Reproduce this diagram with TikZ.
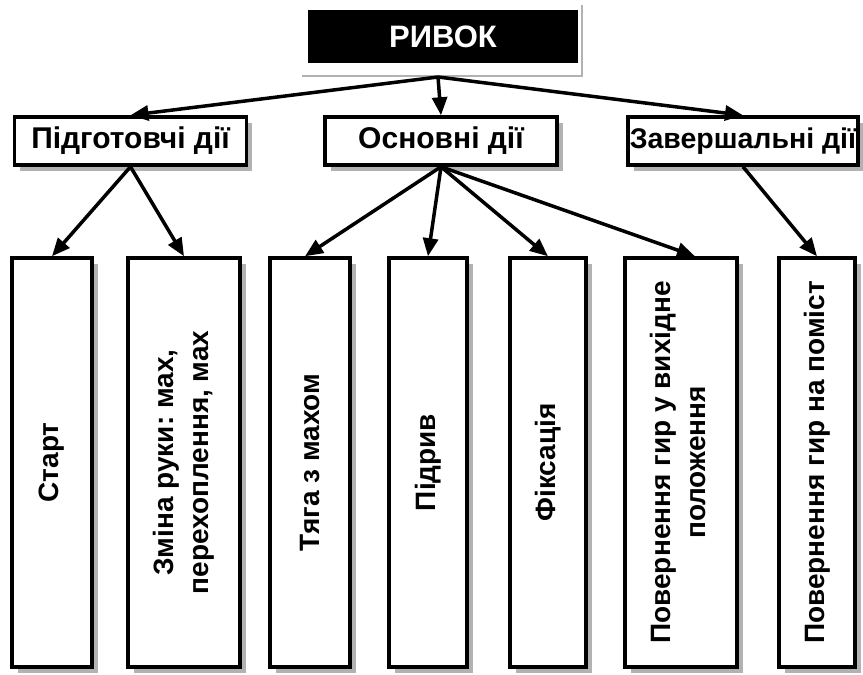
\documentclass[tikz,border=0pt]{standalone}
\usepackage{fontspec}
\setmainfont{Liberation Sans}
\usetikzlibrary{arrows.meta,shadows}
\frenchspacing

\begin{document}
\begin{tikzpicture}[x=1pt,y=-1pt,
  framebox/.style={draw=black, line width=3.5pt, fill=white, inner sep=0pt,
    align=center,
    general shadow={fill=gray!60, shadow xshift=5.5pt, shadow yshift=-5.5pt}},
  stagebox/.style={framebox, minimum width=232pt, minimum height=48pt,
    font=\bfseries\fontsize{30}{34}\selectfont},
  phasebox/.style={framebox, minimum height=409pt,
    font=\bfseries\fontsize{28}{35}\selectfont},
  titlebox/.style={fill=black, text=white, inner sep=0pt,
    minimum width=270pt, minimum height=53pt,
    font=\bfseries\fontsize{31}{36}\selectfont},
  link/.style={line width=3.5pt, -{Triangle[length=18pt,width=15pt]}}
]
\useasboundingbox (0,0) rectangle (863,675);

% title
\draw[gray!60, line width=2.5pt] (302,76) -- (582,76) -- (582,5);
\node[titlebox] (snatch) at (443,36.5) {РИВОК};
\coordinate (hub) at (438,77);

% stages
\node[stagebox] (prep) at (130.5,141) {Підготовчі дії};
\node[stagebox] (main) at (441,141) {Основні дії};
\node[stagebox, minimum width=230pt, font=\bfseries\fontsize{28.5}{34}\selectfont] (fin) at (743,141) {Завершальні дії};

% phases
\node[phasebox, minimum width=80pt]  (start) at (52,462.5)  {\rotatebox{90}{Старт}};
\node[phasebox, minimum width=112pt] (swap)  at (184,462.5) {\rotatebox{90}{\begin{tabular}{@{}c@{}}Зміна руки: мах,\\перехоплення, мах\end{tabular}}};
\node[phasebox, minimum width=80pt]  (pull)  at (310,462.5) {\rotatebox{90}{Тяга з махом}};
\node[phasebox, minimum width=78pt]  (under) at (428,462.5) {\rotatebox{90}{Підрив}};
\node[phasebox, minimum width=76pt]  (fix)   at (548,462.5) {\rotatebox{90}{Фіксація}};
\node[phasebox, minimum width=112pt] (ret)   at (681,462.5) {\rotatebox{90}{\begin{tabular}{@{}c@{}}Повернення гир у вихідне\\положення\end{tabular}}};
\node[phasebox, minimum width=76pt]  (place) at (817,462.5) {\rotatebox{90}{Повернення гир на поміст}};

% connectors
\draw[link] (hub) -- (prep.north);
\draw[link] (hub) -- (main.north);
\draw[link] (hub) -- (fin.north);

\draw[link] (prep.south) -- (start.north);
\draw[link] (prep.south) -- (swap.north);

\draw[link] (main.south) -- ([xshift=-5pt]pull.north);
\draw[link] (main.south) -- (under.north);
\draw[link] (main.south) -- (fix.north);
\draw[link] (main.south) -- ([xshift=14pt]ret.north);

\draw[link] (fin.south) -- (place.north);
\end{tikzpicture}
\end{document}
